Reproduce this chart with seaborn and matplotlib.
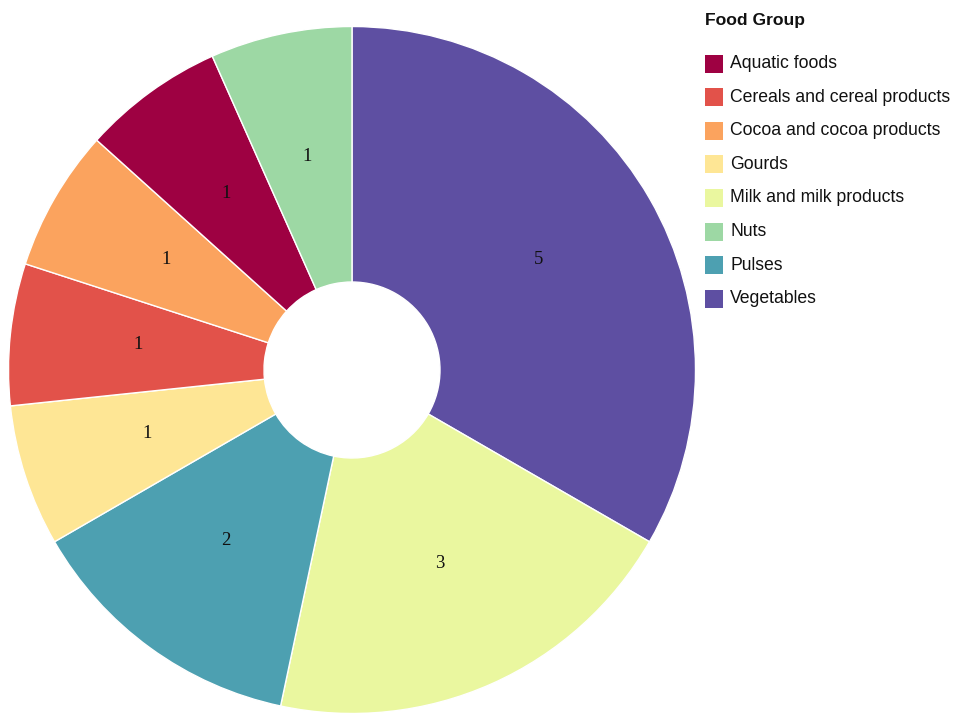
import matplotlib
matplotlib.use("Agg")
import matplotlib.pyplot as plt
from matplotlib.patches import Rectangle
import seaborn as sns
import pandas as pd

# Food groups (legend order), item counts and colours
food_groups = [
    "Aquatic foods",
    "Cereals and cereal products",
    "Cocoa and cocoa products",
    "Gourds",
    "Milk and milk products",
    "Nuts",
    "Pulses",
    "Vegetables",
]
counts = [1, 1, 1, 1, 3, 1, 2, 5]
group_colors = [
    "#9e0142",
    "#e2524a",
    "#fba35e",
    "#fee695",
    "#eaf79f",
    "#9dd8a4",
    "#4da0b1",
    "#5e4fa2",
]

# Order in which the slices run clockwise from 12 o'clock
slice_order = [
    "Vegetables",
    "Milk and milk products",
    "Pulses",
    "Gourds",
    "Cereals and cereal products",
    "Cocoa and cocoa products",
    "Aquatic foods",
    "Nuts",
]

sns.set_theme(style="white")
plt.rcParams["font.family"] = ["Liberation Sans", "DejaVu Sans"]

palette = dict(zip(food_groups, sns.color_palette(group_colors)))
df = pd.DataFrame({"group": food_groups, "count": counts})
df = df.set_index("group").loc[slice_order].reset_index()
total = df["count"].sum()

W, H = 959, 713
fig = plt.figure(figsize=(W / 100, H / 100), dpi=100)
fig.patch.set_facecolor("white")

cx, cy, r = 352, 370, 343.5
ax = fig.add_axes([(cx - r) / W, (H - cy - r) / H, 2 * r / W, 2 * r / H])

inner = 88 / r
wedges, _, autotexts = ax.pie(
    df["count"],
    colors=[palette[g] for g in df["group"]],
    startangle=90,
    counterclock=False,
    radius=1.0,
    wedgeprops=dict(width=1 - inner, edgecolor="white", linewidth=1.0),
    autopct=lambda p: f"{round(p * total / 100):d}",
    pctdistance=0.626,
    textprops=dict(family=["Liberation Serif", "DejaVu Serif"], fontsize=13.5, color="#111111"),
)
# nudge the count labels up a few pixels
for t in autotexts:
    x, y = t.get_position()
    t.set_position((x, y + 3 / r))

ax.set_xlim(-1, 1)
ax.set_ylim(-1, 1)
ax.set_aspect("equal")
ax.axis("off")

# Legend drawn in pixel coordinates on the figure
def px(x, y):
    return x / W, 1 - y / H

fig.text(*px(705, 20), "Food Group", fontsize=12.6, fontweight="bold",
         va="center", ha="left", color="#111111")
for i, g in enumerate(food_groups):
    yc = 63.5 + i * 33.6
    x0, y0 = px(705, yc + 9)
    fig.add_artist(Rectangle((x0, y0), 18 / W, 18 / H, transform=fig.transFigure,
                             facecolor=palette[g], edgecolor="none"))
    fig.text(*px(730, yc), g, fontsize=12.7, va="center", ha="left", color="#111111")

fig.savefig("out.png", dpi=100, facecolor="white")
